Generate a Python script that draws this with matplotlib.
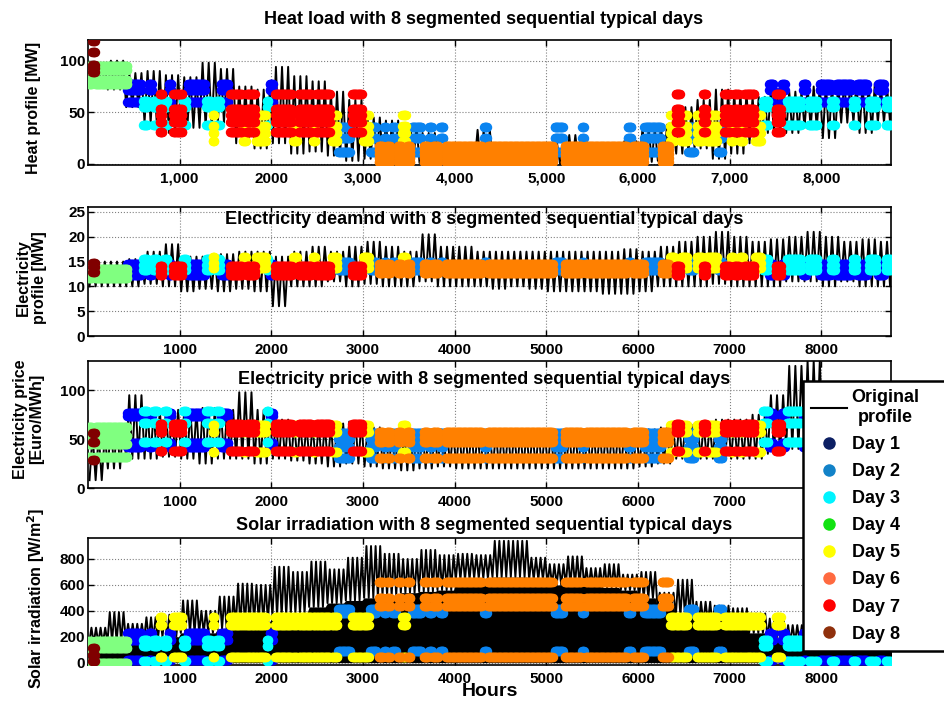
import numpy as np
import matplotlib.pyplot as plt
from matplotlib.lines import Line2D

plt.rcParams['font.family'] = ['Liberation Sans', 'DejaVu Sans']
plt.rcParams['font.weight'] = 'bold'

block_start = list(range(0, 8800, 200))  # 44 blocks

heat_low = [75, 72, 55, 40, 30, 35, 35, 40, 20, 15, 20, 10, 12, 8, 3, 5, 3, 2, 1, 1, 0, 0,
            0, 0, 0, 0, 0, 0, 0, 0, 2, 3, 10, 15, 5, 10, 20, 30, 30, 35, 25, 40, 30, 40]
heat_high = [95, 100, 88, 90, 86, 84, 98, 92, 75, 72, 94, 85, 80, 70, 62, 45, 42, 38, 30, 20, 12, 33,
             14, 8, 12, 20, 28, 20, 15, 22, 35, 38, 55, 62, 72, 70, 65, 72, 70, 75, 78, 80, 78, 75]

elec_low = [10, 10, 10, 10.5, 10, 9, 9.5, 9, 9.5, 9, 6, 10, 10, 11, 10, 10.5, 10, 10, 11, 10, 10, 10,
            9.5, 10, 9.5, 9, 9, 9, 8.5, 8.5, 9, 10, 10, 10, 10.5, 10, 10, 10, 11, 11, 10, 11, 10, 10]
elec_high = [15, 15, 15.5, 17, 18.5, 16, 16, 16.5, 17, 17, 16, 17, 18, 17, 18, 19, 18, 17, 20.5, 18, 18, 17,
             17, 17, 17, 17, 17, 17, 17, 17.5, 17, 18, 19, 20, 21, 20, 19, 19.5, 20, 21, 20, 19, 19.5, 19]

price_low = [8, 20, 30, 30, 32, 30, 25, 30, 30, 25, 30, 28, 25, 22, 25, 22, 20, 18, 20, 22, 20, 20,
             20, 20, 20, 20, 20, 20, 20, 20, 22, 25, 30, 30, 30, 30, 30, 35, 40, 40, 40, 40, 40, 40]
price_high = [55, 65, 95, 80, 80, 80, 82, 80, 98, 80, 70, 66, 66, 66, 68, 62, 58, 58, 58, 60, 60, 58,
              58, 58, 58, 58, 58, 58, 58, 58, 60, 62, 65, 65, 70, 70, 75, 95, 125, 130, 100, 90, 90, 90]

solar_base = [150, 160, 170, 180, 200, 230, 230, 260, 290, 320, 360, 380, 430, 460, 480, 500, 520, 540,
              550, 560, 640, 650, 660, 660, 640, 600, 600, 590, 580, 560, 500, 430, 360, 310, 290, 270,
              230, 190, 160, 140, 130, 120, 120, 120]
solar_peak = [270, 390, 300, 350, 370, 480, 400, 510, 610, 600, 740, 700, 780, 720, 810, 900, 840, 800,
              870, 830, 840, 830, 940, 940, 810, 760, 820, 730, 760, 680, 700, 540, 640, 470, 440, 420,
              380, 340, 290, 260, 240, 230, 240, 230]

# ---- sequential segments: (start hour, end hour, typical day) ----
seg_start = [0, 48, 76, 430, 600, 660, 710, 780, 830, 880, 930, 1040, 1090, 1290, 1360, 1400, 1450,
             1550, 1690, 1730, 1830, 1950, 1980, 2040, 2240, 2300, 2450, 2490, 2660, 2730, 2880,
             3000, 3080, 3170, 3230, 3260, 3320, 3380, 3430, 3480, 3530, 3660, 3720, 3760, 3840,
             3900, 4320, 4360, 5090, 5200, 5390, 5430, 5890, 5940, 6070, 6260, 6350, 6410, 6470,
             6550, 6640, 6710, 6750, 6870, 6940, 7010, 7050, 7110, 7160, 7280, 7360, 7430, 7500,
             7570, 7620, 7800, 7860, 7980, 8110, 8160, 8340, 8390, 8520, 8620, 8700]
seg_end = [44, 72, 430, 580, 650, 700, 760, 810, 870, 910, 1030, 1070, 1280, 1340, 1380, 1440, 1530,
           1680, 1720, 1820, 1940, 1970, 2020, 2220, 2280, 2440, 2480, 2640, 2720, 2860, 2990,
           3060, 3150, 3220, 3250, 3300, 3360, 3420, 3470, 3520, 3640, 3710, 3750, 3820, 3880,
           4300, 4350, 5070, 5180, 5380, 5410, 5880, 5930, 6060, 6250, 6340, 6400, 6460, 6540,
           6620, 6700, 6740, 6860, 6920, 7000, 7040, 7100, 7150, 7270, 7340, 7420, 7480, 7560,
           7600, 7780, 7840, 7960, 8100, 8150, 8330, 8380, 8500, 8600, 8680, 8760]
seg_day = [4, 8, 4, 1, 3, 1, 3, 7, 3, 1, 7, 3, 1, 3, 5, 3, 1,
           7, 5, 7, 5, 3, 1, 7, 5, 7, 5, 7, 5, 2, 7,
           5, 2, 6, 2, 6, 2, 6, 5, 6, 2, 6, 2, 6, 2,
           6, 2, 6, 2, 6, 2, 6, 2, 6, 2, 6, 5, 7, 5,
           2, 5, 7, 5, 2, 7, 5, 7, 5, 7, 5, 3, 1, 7,
           1, 3, 1, 3, 1, 3, 1, 3, 1, 3, 1, 3]

# ---- levels of each segmented typical day ----
heat_levels = {1: [60, 72, 77], 2: [12, 25, 36], 3: [38, 55, 61], 4: [77, 81, 91, 95],
               5: [22, 30, 37, 47], 6: [2, 6, 10, 14, 17], 7: [31, 41, 47, 53, 68],
               8: [89, 93, 96, 108, 119]}
elec_levels = {1: [12.3, 13.1, 13.9, 14.6], 2: [13.3, 14.1, 14.9], 3: [13.3, 14.4, 15.6],
               4: [11.7, 12.6, 13.6], 5: [13.7, 14.8, 15.9], 6: [12.6, 13.6, 14.6],
               7: [12.3, 13.2, 14.2], 8: [13, 14, 14.7]}
price_levels = {1: [42, 46, 74, 77], 2: [31, 42, 50, 56], 3: [47, 67, 79], 4: [32, 45, 53, 62],
                5: [37, 57, 65], 6: [31, 47, 52, 57], 7: [38, 57, 62, 66], 8: [29, 47, 56]}
solar_levels = {1: [20, 175, 230], 2: [90, 380, 415], 3: [10, 125, 175], 4: [0, 110, 170],
                5: [45, 290, 350], 6: [40, 440, 500, 620], 7: [45, 290, 350], 8: [10, 60, 110]}

day_colors = {1: '#0000ff', 2: '#0a84f0', 3: '#00ffff', 4: '#80ff80',
              5: '#ffff00', 6: '#ff8000', 7: '#ff0000', 8: '#800000'}
legend_colors = {1: '#0c1f63', 2: '#1282c8', 3: '#00f4ff', 4: '#12e212',
                 5: '#ffff00', 6: '#ff6a40', 7: '#ff0000', 8: '#8f300c'}


def zigzag(low, high, n=6):
    xs, ys = [], []
    step = 200 / n
    for b, lo, hi in zip(block_start, low, high):
        for k in range(n):
            xs.append(b + step / 2 + step * k)
            ys.append(lo if k % 2 == 0 else hi)
    return xs, ys


def draw_days(ax, levels, day_map=None):
    day_map = day_map or {}
    for day in range(1, 9):
        xs, ys = [], []
        for s, e, d in zip(seg_start, seg_end, seg_day):
            if day_map.get(d, d) != day:
                continue
            hrs = np.arange(s, e + 1, 6)
            for lv in levels[day]:
                xs.extend(hrs)
                ys.extend([lv] * len(hrs))
        ax.plot(xs, ys, 'o', ls='none', color=day_colors[day], ms=6.8, mew=0, zorder=3)


W, H = 944, 706
fig = plt.figure(figsize=(W / 100, H / 100), dpi=100)

boxes = [(40, 165), (207, 336), (361, 488), (538, 665)]
axes = []
for top, bot in boxes:
    ax = fig.add_axes([88 / W, 1 - bot / H, 803 / W, (bot - top) / H])
    axes.append(ax)

ax1, ax2, ax3, ax4 = axes

x, y = zigzag(heat_low, heat_high)
ax1.plot(x, y, color='black', lw=1.4, zorder=2)
draw_days(ax1, heat_levels)
ax1.set_ylim(-1, 120)
ax1.set_yticks([0, 50, 100])

x, y = zigzag(elec_low, elec_high)
ax2.plot(x, y, color='black', lw=1.4, zorder=2)
draw_days(ax2, elec_levels)
ax2.set_ylim(0, 26)
ax2.set_yticks([0, 5, 10, 15, 20, 25])

x, y = zigzag(price_low, price_high)
ax3.plot(x, y, color='black', lw=1.4, zorder=2)
draw_days(ax3, price_levels)
ax3.set_ylim(0, 130)
ax3.set_yticks([0, 50, 100])

x, y = zigzag(solar_base, solar_peak, n=8)
ax4.fill_between(x, 0, np.repeat(solar_base, 8), color='black', lw=0, zorder=2)
ax4.plot(x, y, color='black', lw=1.4, zorder=2)
draw_days(ax4, solar_levels, day_map={7: 5})
ax4.set_ylim(-18, 962)
ax4.set_yticks([0, 200, 400, 600, 800])

xt = [1000, 2000, 3000, 4000, 5000, 6000, 7000, 8000]
for ax in axes:
    ax.set_xlim(0, 8760)
    ax.set_xticks(xt)
    ax.grid(True, linestyle=':', color='0.5', linewidth=0.8)
    ax.set_axisbelow(True)
    ax.tick_params(direction='in', length=4, width=1, top=True, right=True, labelsize=11)
    ax.tick_params(axis='x', pad=5)
    ax.tick_params(axis='y', pad=2)
    for sp in ax.spines.values():
        sp.set_linewidth(1.2)
ax1.set_xticklabels(['1,000', '2000', '3,000', '4,000', '5,000', '6,000', '7,000', '8,000'])

titles = [('Heat load with 8 segmented sequential typical days', 19),
          ('Electricity deamnd with 8 segmented sequential typical days', 220),
          ('Electricity price with 8 segmented sequential typical days', 379),
          ('Solar irradiation with 8 segmented sequential typical days', 525)]
for t, yp in titles:
    fig.text(484 / W, 1 - yp / H, t, ha='center', va='center', fontsize=13, fontweight='bold',
             zorder=10)

ylabels = [('Heat profile [MW]', 34, 108), ('Electricity\nprofile [MW]', 31, 278),
           ('Electricity price\n[Euro/MWh]', 29, 419), ('Solar irradiation [W/m$^\\mathbf{2}$]', 36, 598)]
for t, xp, yp in ylabels:
    fig.text(xp / W, 1 - yp / H, t, rotation=90, ha='center', va='center', fontsize=11.5,
             fontweight='bold', linespacing=1.1)

fig.text(490 / W, 1 - 692 / H, 'Hours', ha='center', va='center', fontsize=14, fontweight='bold')

handles = [Line2D([], [], color='black', lw=1.5)]
labels = ['Original\nprofile']
for d in range(1, 9):
    handles.append(Line2D([], [], marker='o', ls='none', color=legend_colors[d], ms=9, mew=0))
    labels.append(f'Day {d}')
leg = fig.legend(handles, labels, loc='upper left', mode='expand',
                 bbox_to_anchor=(803 / W, 0, 200 / W, 1 - 381 / H), borderaxespad=0,
                 fancybox=False, edgecolor='black', framealpha=1, fontsize=13,
                 handlelength=2.0, handletextpad=0.25, labelspacing=0.56, borderpad=0.45)
leg.get_frame().set_linewidth(1.8)
leg.get_texts()[0].set_multialignment('center')

fig.savefig('out.png', dpi=100)
